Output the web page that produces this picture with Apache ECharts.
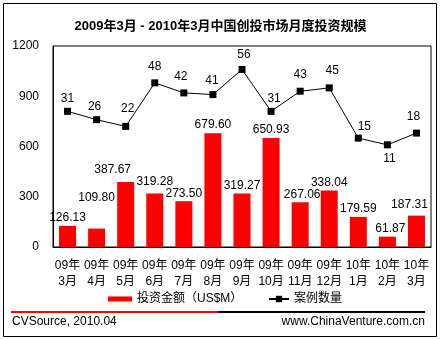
<!DOCTYPE html>
<html>
<head>
<meta charset="utf-8">
<script src="https://cdn.jsdelivr.net/npm/echarts@6/dist/echarts.min.js"></script>
<style>
  html, body { margin: 0; padding: 0; background: #fff; }
  #chart { width: 441px; height: 340px; }
</style>
</head>
<body>
<div id="chart"></div>
<script>
// Monthly venture investment in China, Mar 2009 – Mar 2010
const months = ['09年\n3月', '09年\n4月', '09年\n5月', '09年\n6月', '09年\n7月', '09年\n8月', '09年\n9月',
                '09年\n10月', '09年\n11月', '09年\n12月', '10年\n1月', '10年\n2月', '10年\n3月'];
const amountUSDm = [126.13, 109.80, 387.67, 319.28, 273.50, 679.60, 319.27, 650.93, 267.06, 338.04, 179.59, 61.87, 187.31];
const dealCount = [31, 26, 22, 48, 42, 41, 56, 31, 43, 45, 15, 11, 18];
const amountTicks = [0, 300, 600, 900, 1200];

const amountName = '投资金额（US$M）';
const countName = '案例数量';

// label nudges [dx, dy] so neighbouring labels don't collide
const barLabelNudge = [[0,0],[0,-23],[-13,-4],[0,-4],[0,0],[0,0],[0,0],[0,0],[2,0],[0,0],[0,0],[3,0],[-7,-3]];
const lineLabelNudge = [[0,2],[-2,1],[2,-3],[0,-2],[-3,-2],[-1,1],[2,0],[3,2],[0,-2],[3,-3],[6,3],[2,-1],[-3,-2]];

const FONT = "'Liberation Sans', 'Noto Sans CJK SC', sans-serif";

const chart = echarts.init(document.getElementById('chart'), null, { renderer: 'canvas' });

chart.setOption({
  animation: false,
  backgroundColor: '#fff',
  textStyle: { fontFamily: FONT, color: '#000' },
  title: {
    text: '2009年3月 - 2010年3月中国创投市场月度投资规模',
    left: 'center',
    top: 20,
    padding: 0,
    textStyle: { fontFamily: FONT, fontSize: 13, fontWeight: 'bold', color: '#000' }
  },
  grid: {
    left: 53, top: 46, width: 378, height: 201,
    show: true, borderColor: '#000', borderWidth: 1, backgroundColor: 'transparent'
  },
  legend: [
    {
      data: [{ name: amountName, icon: 'rect' }],
      left: 108, top: 293, itemWidth: 24, itemHeight: 5, padding: 0,
      textStyle: { fontFamily: FONT, fontSize: 12, color: '#000' }
    },
    {
      data: [countName],
      left: 268, top: 293, itemWidth: 20, itemHeight: 8, padding: 0,
      textStyle: { fontFamily: FONT, fontSize: 12, color: '#000' }
    }
  ],
  xAxis: {
    type: 'category',
    data: months,
    axisLine: { lineStyle: { color: '#000', width: 1 } },
    axisTick: { show: false },
    axisLabel: { interval: 0, margin: 11, lineHeight: 16, fontSize: 12, color: '#000', fontFamily: FONT }
  },
  yAxis: [
    {
      type: 'value',
      min: amountTicks[0],
      max: amountTicks[amountTicks.length - 1],
      interval: amountTicks[1] - amountTicks[0],
      axisLine: { show: true, lineStyle: { color: '#000', width: 1 } },
      axisTick: { show: false },
      splitLine: { show: false },
      axisLabel: { margin: 14, fontSize: 12, color: '#000', fontFamily: FONT, formatter: v => String(v) }
    },
    {
      type: 'value',
      min: -50, max: 70,
      show: false,
      splitLine: { show: false }
    }
  ],
  series: [
    {
      name: amountName,
      type: 'bar',
      yAxisIndex: 0,
      barWidth: 17,
      itemStyle: { color: '#ff0000' },
      data: amountUSDm.map((v, i) => ({
        value: v,
        label: { offset: barLabelNudge[i] }
      })),
      label: {
        show: true, position: 'top', distance: 2,
        fontSize: 12, color: '#000', fontFamily: FONT,
        formatter: p => p.value.toFixed(2)
      },
      z: 2
    },
    {
      name: countName,
      type: 'line',
      yAxisIndex: 1,
      symbol: 'rect',
      symbolSize: 7,
      itemStyle: { color: '#000' },
      lineStyle: { color: '#000', width: 1 },
      data: dealCount.map((v, i) => ({
        value: v,
        label: { offset: lineLabelNudge[i], position: i === 11 ? 'bottom' : 'top' }
      })),
      label: {
        show: true, position: 'top', distance: 5,
        fontSize: 12, color: '#000', fontFamily: FONT
      },
      z: 3
    }
  ],
  graphic: [
    { type: 'rect', shape: { x: 3.5, y: 3.5, width: 433, height: 333 },
      style: { fill: 'none', stroke: '#000', lineWidth: 1 }, silent: true },
    { type: 'rect', shape: { x: 11, y: 311, width: 207, height: 2 },
      style: { fill: '#ff0000' }, silent: true },
    { type: 'rect', shape: { x: 218, y: 311, width: 207, height: 2 },
      style: { fill: '#000' }, silent: true },
    { type: 'text', left: 12, top: 316,
      style: { text: 'CVSource, 2010.04', fontSize: 12, fontFamily: FONT, fill: '#000' } },
    { type: 'text', right: 16, top: 316,
      style: { text: 'www.ChinaVenture.com.cn', fontSize: 12, fontFamily: FONT, fill: '#000' } }
  ]
});
</script>
</body>
</html>
